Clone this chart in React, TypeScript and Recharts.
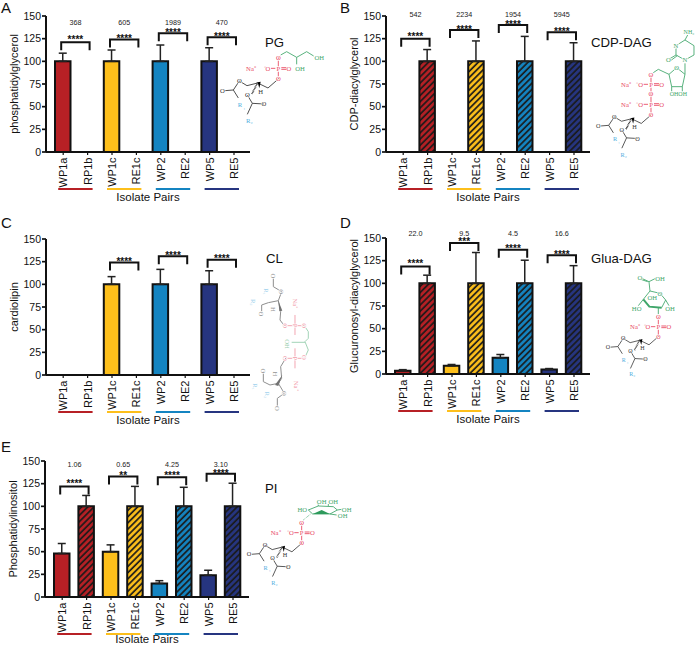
import React from 'react';
import { BarChart, Bar, Cell, ErrorBar, XAxis, YAxis, ReferenceLine } from 'recharts';

const categories = ['WP1a', 'RP1b', 'WP1c', 'RE1c', 'WP2', 'RE2', 'WP5', 'RE5'];
const pairColors = ['#B72025', '#FDBF1B', '#1484C1', '#263580'];
const yTicks = [0, 25, 50, 75, 100, 125, 150];

// 0 means nothing was measured, no bar is drawn
const pgValues = [100, 0, 100, 0, 100, 0, 100, 0];
const pgErrors = [9, 0, 12.5, 0, 18, 0, 15, 0];
const pgBrackets = [121, 124, 131, 126.5];
const pgStars = ['****', '****', '****', '****'];
const pgFolds = ['368', '605', '1989', '470'];

const cdpValues = [0, 100, 0, 100, 0, 100, 0, 100];
const cdpErrors = [0, 13, 0, 22.5, 0, 27.5, 0, 20.5];
const cdpBrackets = [125, 134.5, 140, 132];
const cdpStars = ['****', '****', '****', '****'];
const cdpFolds = ['542', '2234', '1954', '5945'];

const clValues = [0, 0, 100, 0, 100, 0, 100, 0];
const clErrors = [0, 0, 8.5, 0, 16.5, 0, 15, 0];
const clBrackets = [null, 124, 131, 127];
const clStars = ['', '****', '****', '****'];
const clFolds: string[] = [];

const gluaValues = [3.5, 100, 9, 100, 18, 100, 5, 100];
const gluaErrors = [1.3, 9, 1.5, 34, 3.5, 25.5, 1, 19.5];
const gluaBrackets = [118.7, 144.5, 137, 131];
const gluaStars = ['****', '***', '****', '****'];
const gluaFolds = ['22.0', '9.5', '4.5', '16.6'];

const piValues = [48, 100, 50, 100, 15, 100, 24, 100];
const piErrors = [11, 12, 7.5, 22, 3, 21, 5.5, 25.5];
const piBrackets = [122, 133, 132, 136];
const piStars = ['****', '**', '****', '****'];
const piFolds = ['1.06', '0.65', '4.25', '3.10'];

const panels = [
  { letter: 'A', yLabel: 'phosphatidylglycerol', values: pgValues, errors: pgErrors, brackets: pgBrackets, stars: pgStars, folds: pgFolds, left: 0, top: 0, foldY: 25, letterX: 1, letterY: 13, labelOffset: 9, starGaps: [5, 3.3, 2.7, 3.3] },
  { letter: 'B', yLabel: 'CDP-diacylglycerol', values: cdpValues, errors: cdpErrors, brackets: cdpBrackets, stars: cdpStars, folds: cdpFolds, left: 340, top: 0, foldY: 17, letterX: 340, letterY: 13, labelOffset: 9, starGaps: [4.3, 2.7, 3.3, 3] },
  { letter: 'C', yLabel: 'cardiolipin', values: clValues, errors: clErrors, brackets: clBrackets, stars: clStars, folds: clFolds, left: 0, top: 223, foldY: 0, letterX: 1, letterY: 228, labelOffset: 9, starGaps: [0, 3.7, 3.3, 3.3] },
  { letter: 'D', yLabel: 'Glucuronosyl-diacylglycerol', values: gluaValues, errors: gluaErrors, brackets: gluaBrackets, stars: gluaStars, folds: gluaFolds, left: 340, top: 222, foldY: 14, letterX: 340, letterY: 228, labelOffset: 9, starGaps: [5, 3.3, 3.3, 3.3] },
  { letter: 'E', yLabel: 'Phosphatidylinositol', values: piValues, errors: piErrors, brackets: piBrackets, stars: piStars, folds: piFolds, left: -1, top: 445, foldY: 22, letterX: 1, letterY: 452, labelOffset: 12, starGaps: [5, 3.7, 4, 2.3] },
];

const titles = [
  { text: 'PG', x: 265, y: 47 },
  { text: 'CDP-DAG', x: 591, y: 47 },
  { text: 'CL', x: 266, y: 263 },
  { text: 'Glua-DAG', x: 591, y: 263 },
  { text: 'PI', x: 265, y: 493 },
];

const INK = '#111';
const FONT = '"Liberation Sans", Arial, sans-serif';
const SERIF = '"Liberation Serif", serif';
const GRAY = '#333';
const CYAN = '#4FAEE0';
const RED = '#E8475F';
const GREEN = '#3FA66A';

function PairTick({ x, y, index, payload }: any) {
  return (
    <g>
      <text
        transform={`translate(${x + 4},${y + 1.5}) rotate(-90)`}
        textAnchor="end"
        fontSize={11}
        fontFamily={FONT}
        fill={INK}
      >
        {payload.value}
      </text>
      {index % 2 === 0 && (
        <line x1={x - 5} x2={x + 29.4} y1={y + 33} y2={y + 33} stroke={pairColors[index / 2]} strokeWidth={2} />
      )}
    </g>
  );
}

function Bracket({ x1, x2, y1, stars, fold, foldY, starGap }: any) {
  const l = x1 - 2;
  const r = x2 + 2;
  const mid = (x1 + x2) / 2;
  return (
    <g>
      <path d={`M${l} ${y1 + 8}V${y1}H${r}V${y1 + 8}`} fill="none" stroke={INK} strokeWidth={2} />
      <text x={mid} y={y1 - starGap + 5.8} textAnchor="middle" fontSize={10} fontWeight="bold" fontFamily={FONT} fill={INK}>
        {stars}
      </text>
      {fold && (
        <text x={mid} y={foldY} textAnchor="middle" fontSize={7.2} fontFamily={FONT} fill="#222">
          {fold}
        </text>
      )}
    </g>
  );
}

function Panel({ panel }: any) {
  const rows = categories.map((name, i) => ({
    name,
    value: panel.values[i] === 0 ? null : panel.values[i],
    err: panel.errors[i] === 0 ? null : [0, panel.errors[i]],
  }));

  return (
    <div style={{ position: 'absolute', left: panel.left, top: panel.top }}>
      <BarChart width={250} height={210} data={rows} margin={{ top: 16, right: 0, bottom: 0, left: 0 }}>
        <XAxis
          dataKey="name"
          interval={0}
          height={58}
          padding={{ left: 5, right: 3.8 }}
          tick={<PairTick />}
          tickSize={3}
          tickMargin={1}
          axisLine={{ stroke: INK, strokeWidth: 2 }}
          tickLine={{ stroke: INK, strokeWidth: 1.2 }}
          label={{ value: 'Isolate Pairs', position: 'insideBottom', offset: panel.labelOffset, fontSize: 11.5, fontFamily: FONT, fill: INK }}
        />
        <YAxis
          domain={[0, 150]}
          ticks={yTicks}
          width={46}
          interval={0}
          tickSize={4}
          tickMargin={1}
          tick={{ fontSize: 10.5, fontFamily: FONT, fill: INK }}
          axisLine={{ stroke: INK, strokeWidth: 2 }}
          tickLine={{ stroke: INK, strokeWidth: 1.7 }}
          label={{
            value: panel.yLabel,
            angle: -90,
            position: 'insideLeft',
            dx: 9,
            fontSize: 11,
            fontFamily: FONT,
            fill: INK,
            style: { textAnchor: 'middle' },
          }}
        />
        <Bar dataKey="value" barSize={15.5} stroke={INK} strokeWidth={2} isAnimationActive={false}>
          {rows.map((row, i) => (
            <Cell
              key={row.name}
              fill={i % 2 === 0 ? pairColors[i >> 1] : `url(#hatch-${i >> 1})`}
            />
          ))}
          <ErrorBar dataKey="err" direction="y" width={4} stroke="#222" strokeWidth={1.5} isAnimationActive={false} />
        </Bar>
        {panel.brackets.map((level: number | null, i: number) =>
          level === null ? null : (
            <ReferenceLine
              key={i}
              segment={[
                { x: categories[i * 2], y: level },
                { x: categories[i * 2 + 1], y: level },
              ]}
              ifOverflow="visible"
              shape={(p: any) => (
                <Bracket {...p} stars={panel.stars[i]} fold={panel.folds[i]} foldY={panel.foldY} starGap={panel.starGaps[i]} />
              )}
            />
          ),
        )}
      </BarChart>
    </div>
  );
}

function Atom({ x, y, t, c, size = 20, rot }: any) {
  return (
    <text
      x={x}
      y={y + size * 0.33}
      transform={rot ? `rotate(${rot} ${x} ${y})` : undefined}
      textAnchor="middle"
      fontSize={size}
      fontFamily={SERIF}
      fill={c}
      stroke="#fff"
      strokeWidth={4}
      paintOrder="stroke"
    >
      {t}
    </text>
  );
}

function Bond({ d, c, w = 2.6 }: any) {
  return <path d={d} fill="none" stroke={c} strokeWidth={w} />;
}

// drawn in 3x units around the oxygen that joins the phosphate
function Lipid({ x, y, s = 1 }: any) {
  return (
    <g transform={`translate(${x} ${y}) scale(${s})`}>
      <Bond c={GRAY} d="M0 0L-31 27L-62 12L-94 20L-117 6L-135 33M-135 33L-160 35M-135 33L-120 57" />
      <path d="M-62 11L-80 46" stroke="#000" strokeWidth={5} strokeDasharray="2 2.5" fill="none" />
      <path d="M-62 10L-57 28L-53 8Z" fill="#000" />
      <Bond c={GRAY} d="M-93 48L-78 73L-43 75M-78 73L-93 106" />
      <Atom x={0} y={0} t="O" c={RED} />
      <Atom x={-117} y={6} t="O" c={GRAY} />
      <Atom x={-168} y={35} t="O" c={GRAY} />
      <Atom x={-93} y={48} t="O" c={GRAY} />
      <Atom x={-43} y={75} t="O" c={GRAY} />
      <Atom x={-53} y={38} t="H" c={GRAY} />
      <Atom x={-115} y={78} t="R" c={CYAN} />
      <Atom x={-102} y={84} t="₁" c={CYAN} size={14} />
      <Atom x={-87} y={126} t="R₂" c={CYAN} />
    </g>
  );
}

function Phosphate({ x, y, na = -82 }: any) {
  return (
    <g>
      <Atom x={x} y={y} t="P" c={RED} />
      <Atom x={x + 32} y={y} t="O" c={RED} />
      <Atom x={x - 34} y={y} t="⁻O" c={RED} />
      <Atom x={x + na} y={y} t="Na⁺" c={RED} />
      <Bond c={RED} d={`M${x + 9} ${y - 2}H${x + 24}M${x + 9} ${y + 3}H${x + 24}M${x - 22} ${y}H${x - 9}`} />
    </g>
  );
}

function Molecules() {
  return (
    <svg width={696} height={646} style={{ position: 'absolute', left: 0, top: 0, pointerEvents: 'none' }}>
      {/* PG */}
      <g transform="translate(215 45) scale(0.3333)">
        <Bond c={RED} d="M190 102V37" />
        <Phosphate x={190} y={70} />
        <Lipid x={190} y={102} />
        <Bond c={GREEN} d="M197 30L215 20L245 37L275 20L296 33M245 37V58" />
        <Atom x={190} y={37} t="O" c={RED} />
        <Atom x={313} y={37} t="OH" c={GREEN} />
        <Atom x={255} y={72} t="OH" c={GREEN} />
      </g>
      {/* CDP-DAG */}
      <g transform="translate(590 25) scale(0.3333)">
        <Bond c={RED} d="M183 270V150" />
        <Phosphate x={183} y={238} na={-75} />
        <Phosphate x={183} y={178} na={-75} />
        <Atom x={183} y={207} t="O" c={RED} />
        <Lipid x={183} y={270} s={0.94} />
        <Atom x={183} y={150} t="O" c={RED} />
        <Bond c={GREEN} d="M190 143L205 133L237 148L260 128L285 148L277 185L245 185L237 148M245 185V200M277 185V200M285 148V115M285 105L258 90L258 62L285 45L312 62L312 90L285 105M258 90L238 102M262 92L243 106M285 45L293 30" />
        <Atom x={260} y={128} t="O" c={GREEN} />
        <Atom x={265} y={208} t="OHOH" c={GREEN} size={18} />
        <Atom x={285} y={105} t="N" c={GREEN} />
        <Atom x={258} y={62} t="N" c={GREEN} />
        <Atom x={235} y={104} t="O" c={GREEN} />
        <Atom x={297} y={22} t="NH₂" c={GREEN} size={18} />
      </g>
      {/* CL, faint in the source */}
      <g transform="translate(245 270) scale(0.3333)" opacity={0.55}>
        <Bond c={GRAY} w={3} d="M85 22V50L110 65L100 92L107 125L105 150L118 167M100 92L70 98L50 105L50 130" />
        <path d="M100 92L112 122L103 124Z" fill="#000" />
        <Bond c={RED} d="M120 167H178M150 135V195M120 265H178M150 235V295" />
        <Bond c={GREEN} d="M178 167L190 185V205L180 215L190 240L180 262M140 217H180" />
        <Bond c={GRAY} w={3} d="M122 265L107 290L110 325L100 340L118 370L97 385V412M100 340L75 345L55 335V305" />
        <path d="M112 315L90 345L100 348Z" fill="#000" />
        <Atom x={85} y={18} t="O" c={GRAY} rot={90} />
        <Atom x={50} y={132} t="O" c={GRAY} rot={90} />
        <Atom x={110} y={65} t="O" c={GRAY} rot={90} />
        <Atom x={65} y={65} t="R₁" c={CYAN} rot={90} />
        <Atom x={25} y={97} t="R₂" c={CYAN} rot={90} />
        <Atom x={85} y={118} t="H" c={GRAY} rot={90} />
        <Atom x={150} y={100} t="Na⁺" c={RED} rot={90} />
        <Atom x={150} y={167} t="P" c={RED} rot={90} />
        <Atom x={120} y={167} t="O" c={RED} rot={90} />
        <Atom x={178} y={167} t="O" c={RED} rot={90} />
        <Atom x={127} y={222} t="OH" c={GREEN} rot={90} />
        <Atom x={150} y={265} t="P" c={RED} rot={90} />
        <Atom x={122} y={265} t="O" c={RED} rot={90} />
        <Atom x={178} y={262} t="O" c={RED} rot={90} />
        <Atom x={153} y={347} t="Na⁺" c={RED} rot={90} />
        <Atom x={92} y={312} t="H" c={GRAY} rot={90} />
        <Atom x={55} y={303} t="O" c={GRAY} rot={90} />
        <Atom x={97} y={415} t="O" c={GRAY} rot={90} />
        <Atom x={118} y={370} t="O" c={GRAY} rot={90} />
        <Atom x={30} y={350} t="R₁" c={CYAN} rot={90} />
        <Atom x={68} y={375} t="R₂" c={CYAN} rot={90} />
      </g>
      {/* Glua-DAG */}
      <g transform="translate(595 265) scale(0.3333)">
        <Bond c={RED} d="M190 215V155" />
        <Phosphate x={190} y={185} na={-70} />
        <Lipid x={190} y={215} s={0.9} />
        <Bond c={GREEN} d="M165 78L195 85L212 105L200 128M145 103L165 78M165 78L162 50L140 40M158 50L137 43M162 50L182 40M145 103L130 122M212 105L222 122M190 128V148" />
        <Bond c={GREEN} w={6} d="M145 103L163 125L200 128" />
        <Atom x={190} y={156} t="O" c={RED} />
        <Atom x={135} y={38} t="O" c={GREEN} />
        <Atom x={195} y={40} t="OH" c={GREEN} />
        <Atom x={195} y={85} t="O" c={GREEN} />
        <Atom x={172} y={97} t="OH" c={GREEN} />
        <Atom x={125} y={132} t="HO" c={GREEN} />
        <Atom x={225} y={132} t="OH" c={GREEN} />
      </g>
      {/* PI */}
      <g transform="translate(240 490) scale(0.3333)">
        <Bond c={RED} d="M185 160V98" />
        <Phosphate x={185} y={128} na={-78} />
        <Lipid x={185} y={160} s={0.94} />
        <Bond c={GREEN} d="M205 60L218 72H270L292 60L280 50L235 48L205 60M235 48V42M265 48V42M292 60L305 58M270 72L290 75" />
        <path d="M218 72L245 60L270 72Z" fill="#2E9A5C" />
        <path d="M190 90L212 72" stroke={GREEN} strokeWidth={3} strokeDasharray="2 3" fill="none" />
        <Atom x={185} y={98} t="O" c={RED} />
        <Atom x={187} y={58} t="HO" c={GREEN} />
        <Atom x={245} y={36} t="OH" c={GREEN} />
        <Atom x={280} y={36} t="OH" c={GREEN} />
        <Atom x={320} y={58} t="OH" c={GREEN} />
        <Atom x={308} y={78} t="OH" c={GREEN} />
      </g>
    </svg>
  );
}

export default function App() {
  return (
    <div style={{ position: 'absolute', left: 0, top: 0, width: 696, height: 646, overflow: 'hidden', background: '#fff' }}>
      <svg width={0} height={0} style={{ position: 'absolute' }}>
        <defs>
          {pairColors.map((color, i) => (
            <pattern key={color} id={`hatch-${i}`} width={4.4} height={4.4} patternUnits="userSpaceOnUse" patternTransform="rotate(45)">
              <rect width={4.4} height={4.4} fill={color} />
              <line x1={1} x2={1} y1={0} y2={4.4} stroke="#1a1a1a" strokeWidth={1.7} />
            </pattern>
          ))}
        </defs>
      </svg>
      {panels.map((panel) => (
        <Panel key={panel.letter} panel={panel} />
      ))}
      <Molecules />
      <svg width={696} height={646} style={{ position: 'absolute', left: 0, top: 0, pointerEvents: 'none' }}>
        {panels.map((panel) => (
          <text key={panel.letter} x={panel.letterX} y={panel.letterY} fontSize={15} fontFamily={FONT} fill={INK}>
            {panel.letter}
          </text>
        ))}
        {titles.map((title) => (
          <text key={title.text} x={title.x} y={title.y} fontSize={13.2} fontFamily={FONT} fill={INK}>
            {title.text}
          </text>
        ))}
      </svg>
    </div>
  );
}
